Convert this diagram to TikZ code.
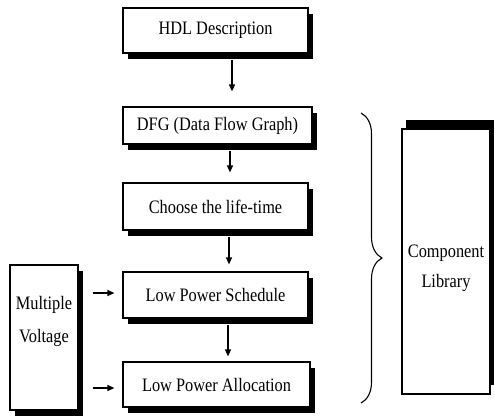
\documentclass[tikz,border=0pt]{standalone}
\usepackage{fontspec}
\setmainfont{Liberation Serif}[FakeStretch=0.86]
\usetikzlibrary{arrows.meta,decorations.pathreplacing,shadows,calc}
\begin{document}
\begin{tikzpicture}[x=1pt,y=-1pt,
  box/.style={draw, line width=1.2pt, fill=white, rectangle, inner sep=0pt,
    font=\fontsize{19}{22}\selectfont,
    drop shadow={shadow xshift=5pt, shadow yshift=-6pt, fill=black, opacity=1}},
  upbox/.style={draw, line width=1.2pt, fill=white, rectangle, inner sep=0pt,
    drop shadow={shadow xshift=4pt, shadow yshift=9pt, fill=black, opacity=1}},
  lbl/.style={font=\fontsize{19}{22}\selectfont, inner sep=0pt},
  arr/.style={-{Triangle[length=7pt,width=6pt]}, line width=1.2pt}]
\useasboundingbox (0,0) rectangle (494,416);

\node[box, minimum width=185pt, minimum height=45pt] (hdl) at (215.5,30.5) {HDL Description};
\node[box, minimum width=189pt, minimum height=37pt] (dfg) at (217.5,125.5) {DFG (Data Flow Graph)};
\node[box, minimum width=185pt, minimum height=47pt] (cho) at (215.5,206.5) {Choose the life-time};
\node[box, minimum width=185pt, minimum height=46pt] (lps) at (215.5,295) {Low Power Schedule};
\node[box, minimum width=187pt, minimum height=45pt] (lpa) at (216.5,384.5) {Low Power Allocation};

\node[box, minimum width=68pt, minimum height=145pt] (mv) at (44,337.5) {};
\node[lbl] (mvt1) at (44,305) {Multiple};
\node[lbl] (mvt2) at (44,338) {Voltage};

\node[upbox, minimum width=88pt, minimum height=265pt] (cl) at (446,261.5) {};
\node[lbl] (clt1) at (446,253) {Component};
\node[lbl] (clt2) at (446,283) {Library};

\draw[arr, shorten <=6pt, shorten >=15pt] ([xshift=16.5pt]hdl.south) -- ([xshift=14.5pt]dfg.north);
\draw[arr, shorten <=6pt, shorten >=10pt] ([xshift=12.5pt]dfg.south) -- ([xshift=14.5pt]cho.north);
\draw[arr, shorten <=6pt, shorten >=7pt] ([xshift=13.5pt]cho.south) -- ([xshift=13.5pt]lps.north);
\draw[arr, shorten <=6pt, shorten >=5pt] ([xshift=12.5pt]lps.south) -- ([xshift=11.5pt]lpa.north);

\draw[arr, shorten <=14pt, shorten >=8pt] ($(mv.east |- lps.west)+(0,-2)$) -- ($(lps.west)+(0,-2)$);
\draw[arr, shorten <=14pt, shorten >=8pt] ($(mv.east |- lpa.west)+(0,3.5)$) -- ($(lpa.west)+(0,3.5)$);

\coordinate (bt) at (361,113);
\coordinate (bb) at (361,403);
\draw[line width=1.1pt, decorate, decoration={brace, amplitude=21pt}] (bt) -- (bb);
\end{tikzpicture}
\end{document}
